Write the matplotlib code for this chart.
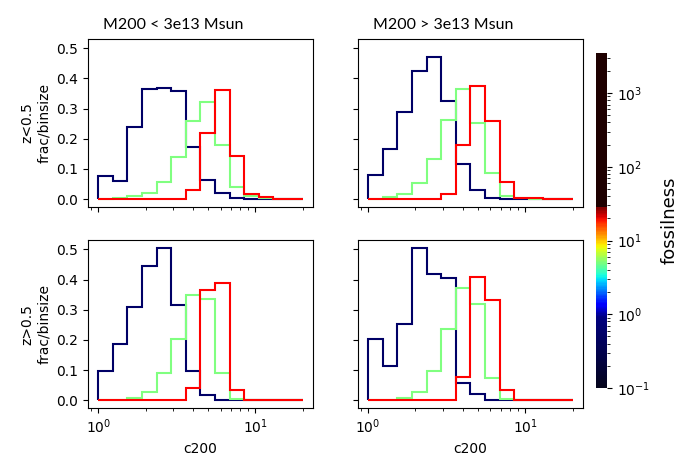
import numpy as np
import matplotlib
matplotlib.use("Agg")
import matplotlib.pyplot as plt
from matplotlib.colors import LinearSegmentedColormap, LogNorm
from matplotlib.cm import ScalarMappable

# log-spaced c200 bins, 1 .. 20
bins = np.logspace(0, np.log10(20), 15)

mass_titles = ["M200 < 3e13 Msun", "M200 > 3e13 Msun"]
z_labels = ["z<0.5", "z>0.5"]
series_colors = ["#000066", "#80ff80", "#ff0000"]

# frac/binsize per bin, [z row][mass column][series]
lowz_lowm_navy = [0.075, 0.061, 0.240, 0.365, 0.369, 0.357, 0.174, 0.062, 0.021, 0.004, 0.001, 0, 0, 0]
lowz_lowm_green = [0, 0.005, 0.009, 0.021, 0.057, 0.138, 0.260, 0.320, 0.180, 0.039, 0.011, 0.002, 0, 0]
lowz_lowm_red = [0, 0, 0, 0, 0, 0, 0.031, 0.220, 0.362, 0.143, 0.017, 0.006, 0.001, 0.001]

lowz_highm_navy = [0.080, 0.165, 0.290, 0.425, 0.472, 0.326, 0.117, 0.030, 0.004, 0.001, 0, 0, 0, 0]
lowz_highm_green = [0, 0.008, 0.018, 0.053, 0.134, 0.262, 0.365, 0.252, 0.086, 0.011, 0.002, 0, 0, 0]
lowz_highm_red = [0, 0, 0, 0, 0, 0.018, 0.179, 0.375, 0.260, 0.056, 0.004, 0.002, 0, 0]

highz_lowm_navy = [0.097, 0.188, 0.310, 0.446, 0.505, 0.315, 0.096, 0.019, 0.001, 0, 0, 0, 0, 0]
highz_lowm_green = [0, 0, 0.008, 0.028, 0.090, 0.203, 0.350, 0.336, 0.090, 0.004, 0, 0, 0, 0]
highz_lowm_red = [0, 0, 0, 0, 0, 0, 0.042, 0.365, 0.390, 0.034, 0, 0, 0, 0]

highz_highm_navy = [0.204, 0.114, 0.254, 0.505, 0.417, 0.406, 0.058, 0.022, 0.002, 0, 0, 0, 0, 0]
highz_highm_green = [0, 0, 0.009, 0.029, 0.098, 0.236, 0.372, 0.320, 0.075, 0.004, 0, 0, 0, 0]
highz_highm_red = [0, 0, 0, 0, 0, 0, 0.078, 0.408, 0.333, 0.033, 0, 0, 0, 0]

panels = [
    [[lowz_lowm_navy, lowz_lowm_green, lowz_lowm_red],
     [lowz_highm_navy, lowz_highm_green, lowz_highm_red]],
    [[highz_lowm_navy, highz_lowm_green, highz_lowm_red],
     [highz_highm_navy, highz_highm_green, highz_highm_red]],
]

# fossilness colour scale
fmin, fmax = 0.1, 3500.0
jet_lo, jet_hi = 0.9, 28.0


def tpos(v):
    return (np.log10(v) - np.log10(fmin)) / (np.log10(fmax) - np.log10(fmin))


jet = plt.get_cmap("jet")
stops = [(0.0, "#04041a")]
for s in np.linspace(0, 1, 40):
    v = jet_lo * (jet_hi / jet_lo) ** s
    stops.append((tpos(v), jet(s)))
stops.append((tpos(jet_hi) + 1e-4, "#1e0000"))
stops.append((1.0, "#1e0000"))
fcmap = LinearSegmentedColormap.from_list("fossil", stops)

fig, axes = plt.subplots(2, 2, sharex=True, sharey=True, figsize=(6.88, 4.76), dpi=100)
plt.subplots_adjust(left=0.128, right=0.847, bottom=0.143, top=0.918, wspace=0.2, hspace=0.2)

for i in range(2):
    for j in range(2):
        ax = axes[i, j]
        ax.use_sticky_edges = False
        for vals, c in zip(panels[i][j], series_colors):
            ax.hist(bins[:-1], bins=bins, weights=vals, histtype="step", color=c, lw=1.5)
        ax.set_xscale("log")
        if i == 0:
            ax.text(0.065, 1.06, mass_titles[j], transform=ax.transAxes,
                    ha="left", va="baseline", fontsize=11.5, family="Lato")
        if j == 0:
            ax.set_ylabel(z_labels[i] + "\nfrac/binsize")
        if i == 1:
            ax.set_xlabel("c200")
        ax.set_yticks([0.0, 0.1, 0.2, 0.3, 0.4, 0.5])

cax = fig.add_axes([596 / 688, 88 / 476, 11 / 688, 335 / 476])
sm = ScalarMappable(norm=LogNorm(fmin, fmax), cmap=fcmap)
cb = fig.colorbar(sm, cax=cax)
cb.set_label("fossilness", fontsize=13, labelpad=8)
cb.outline.set_visible(False)

fig.savefig("out.png", dpi=100)
